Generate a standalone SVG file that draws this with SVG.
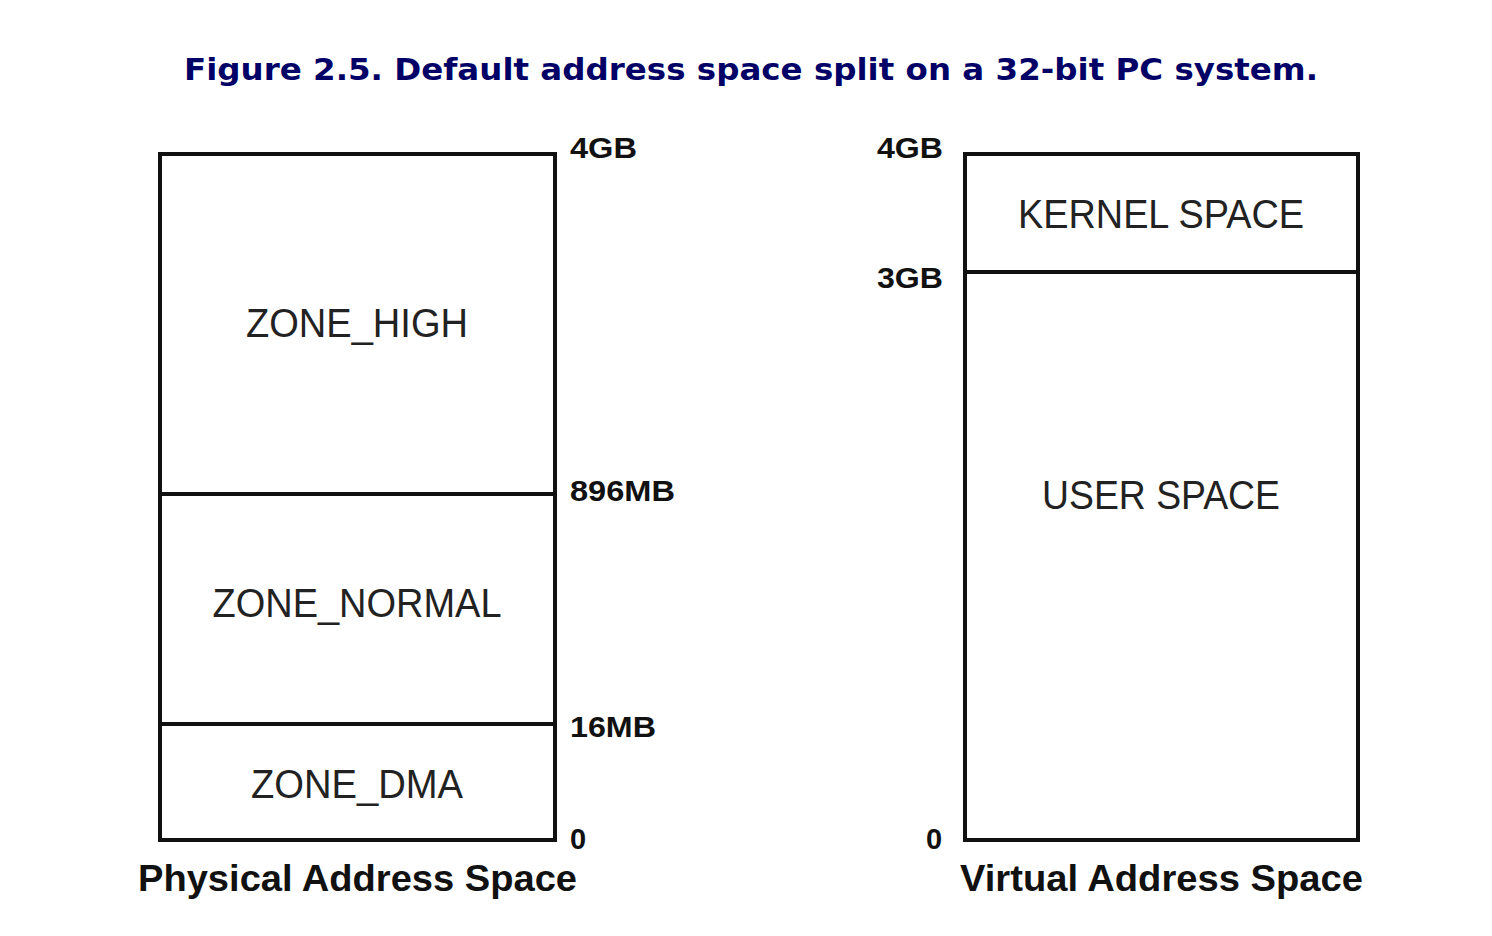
<svg xmlns="http://www.w3.org/2000/svg" width="1492" height="936" viewBox="0 0 1492 936">
<style>
.title{font-family:"DejaVu Sans",Verdana,sans-serif;font-weight:bold;font-size:31px;fill:#000066}
.box{fill:#fff;stroke:#111;stroke-width:4}
.div{stroke:#111;stroke-width:4;fill:none}
.zone{font-family:"Liberation Sans",Arial,sans-serif;font-size:40px;fill:#222;text-anchor:middle}
.mark{font-family:"Liberation Sans",Arial,sans-serif;font-weight:bold;font-size:29px;fill:#111}
.cap{font-family:"Liberation Sans",Arial,sans-serif;font-weight:bold;font-size:37px;fill:#111}
</style>
<rect width="1492" height="936" fill="#fff"/>
<text class="title" x="184" y="80" textLength="1134" lengthAdjust="spacingAndGlyphs">Figure 2.5. Default address space split on a 32-bit PC system.</text>
<g id="physical">
<rect class="box" x="160" y="154" width="395" height="686"/>
<g id="zone_high"><text class="zone" x="357" y="337" textLength="222" lengthAdjust="spacingAndGlyphs">ZONE_HIGH</text></g>
<g id="zone_normal"><line class="div" x1="160" y1="494" x2="555" y2="494"/><text class="zone" x="357" y="617" textLength="289" lengthAdjust="spacingAndGlyphs">ZONE_NORMAL</text></g>
<g id="zone_dma"><line class="div" x1="160" y1="724" x2="555" y2="724"/><text class="zone" x="357" y="798" textLength="212" lengthAdjust="spacingAndGlyphs">ZONE_DMA</text></g>
<text class="mark" x="570" y="158" textLength="67" lengthAdjust="spacingAndGlyphs">4GB</text>
<text class="mark" x="570" y="501" textLength="105" lengthAdjust="spacingAndGlyphs">896MB</text>
<text class="mark" x="570" y="737" textLength="86" lengthAdjust="spacingAndGlyphs">16MB</text>
<text class="mark" x="570" y="849">0</text>
<text class="cap" x="138" y="891" textLength="439" lengthAdjust="spacingAndGlyphs">Physical Address Space</text>
</g>
<g id="virtual">
<rect class="box" x="965" y="154" width="393" height="686"/>
<g id="kernel_space"><text class="zone" x="1161" y="228" textLength="286" lengthAdjust="spacingAndGlyphs">KERNEL SPACE</text></g>
<g id="user_space"><line class="div" x1="965" y1="272" x2="1358" y2="272"/><text class="zone" x="1161" y="509" textLength="238" lengthAdjust="spacingAndGlyphs">USER SPACE</text></g>
<text class="mark" x="877" y="158" textLength="66" lengthAdjust="spacingAndGlyphs">4GB</text>
<text class="mark" x="877" y="288" textLength="66" lengthAdjust="spacingAndGlyphs">3GB</text>
<text class="mark" x="926" y="849">0</text>
<text class="cap" x="960" y="891" textLength="403" lengthAdjust="spacingAndGlyphs">Virtual Address Space</text>
</g>
<g id="connectors"></g>
</svg>
